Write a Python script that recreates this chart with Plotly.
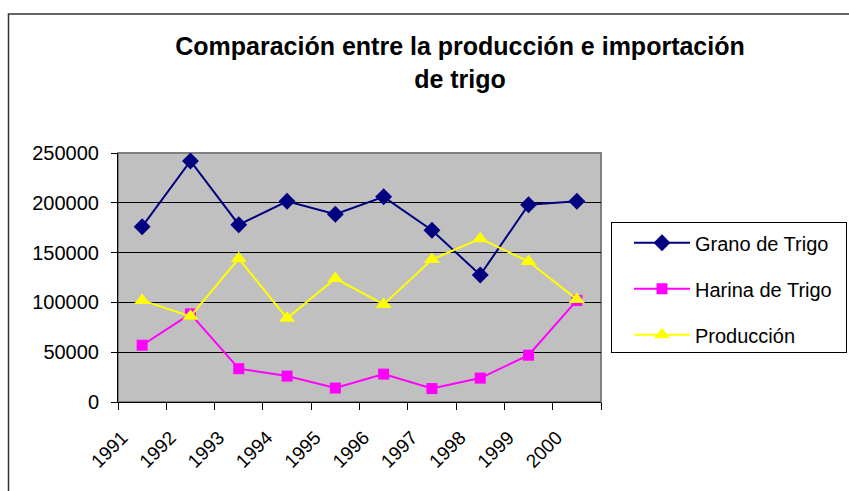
import plotly.graph_objects as go

years = ["1991", "1992", "1993", "1994", "1995", "1996", "1997", "1998", "1999", "2000"]
grano = [176000, 242000, 178000, 201500, 188500, 206000, 172500, 127500, 198000, 201500]
harina = [57000, 88500, 33500, 26000, 14000, 28000, 13500, 24000, 47000, 102000]
produccion = [102000, 86000, 144000, 84000, 124000, 98000, 143000, 164000, 141000, 103000]

W, H = 849, 491
L, R, T, B = 118, 601, 152.5, 402.5
pw, ph = R - L, B - T

def px(x):
    return (x - L) / pw

def py(y):
    return (B - y) / ph

FONT = "Liberation Sans, Arial, sans-serif"

fig = go.Figure()
fig.add_trace(go.Scatter(x=years, y=grano, name="Grano de Trigo", mode="lines+markers",
                         line=dict(color="#000080", width=2),
                         marker=dict(symbol="diamond", size=13, color="#000080"),
                         legendgroup="a"))
fig.add_trace(go.Scatter(x=years, y=harina, name="Harina de Trigo", mode="lines+markers",
                         line=dict(color="#FF00FF", width=2),
                         marker=dict(symbol="square", size=11, color="#FF00FF"),
                         legendgroup="b"))
fig.add_trace(go.Scatter(x=years, y=produccion, name="Producción<br>nacional", mode="lines+markers",
                         line=dict(color="#FFFF00", width=2),
                         marker=dict(symbol="triangle-up", size=14, color="#FFFF00"),
                         legendgroup="c"))

fig.update_layout(
    width=W, height=H,
    margin=dict(l=L, r=W - R, t=T, b=H - B, autoexpand=False),
    paper_bgcolor="white",
    plot_bgcolor="#C0C0C0",
    font=dict(family=FONT, size=20, color="black"),
    title=dict(text="<b>Comparación entre la producción e importación<br>de trigo</b>",
               x=460 / W, xanchor="center", y=1 - 55 / H, yanchor="top",
               font=dict(size=25, family=FONT, color="black")),
    showlegend=True,
    legend=dict(x=px(611), xanchor="left", y=py(222), yanchor="top",
                bordercolor="black", borderwidth=1, bgcolor="white",
                font=dict(size=20, family=FONT), tracegroupgap=17,
                indentation=17, itemwidth=56, entrywidth=320, maxheight=131,
                valign="top"),
    xaxis=dict(type="category", range=[-0.5, 9.5], tickson="boundaries",
               ticks="outside", ticklen=7, tickcolor="black", tickwidth=1,
               tickangle=-45, showline=True, linecolor="black", linewidth=1,
               showgrid=False, tickfont=dict(size=19), fixedrange=True,
               ticklabelshift=-20, ticklabelstandoff=16),
    yaxis=dict(range=[0, 250000], dtick=50000, tickformat="d",
               ticks="outside", ticklen=6, tickcolor="black",
               showline=True, linecolor="black", linewidth=1,
               showgrid=True, gridcolor="black", gridwidth=1,
               zeroline=False, tickfont=dict(size=20), ticklabelstandoff=8),
    shapes=[
        dict(type="rect", xref="paper", yref="paper", x0=0, x1=1, y0=0, y1=1,
             line=dict(color="#808080", width=2), layer="below"),
        dict(type="rect", xref="paper", yref="paper", x0=px(8.5), x1=px(W + 20),
             y0=py(H + 20), y1=py(13), line=dict(color="#333333", width=1.5)),
    ],
)

post = (
    "document.body.style.margin='0';"
    "var s=document.createElement('style');"
    "s.innerHTML='.legend .scrollbar{display:none !important;}';"
    "document.head.appendChild(s);"
)
fig.write_html("out.html", post_script=post, config={"displayModeBar": False})
